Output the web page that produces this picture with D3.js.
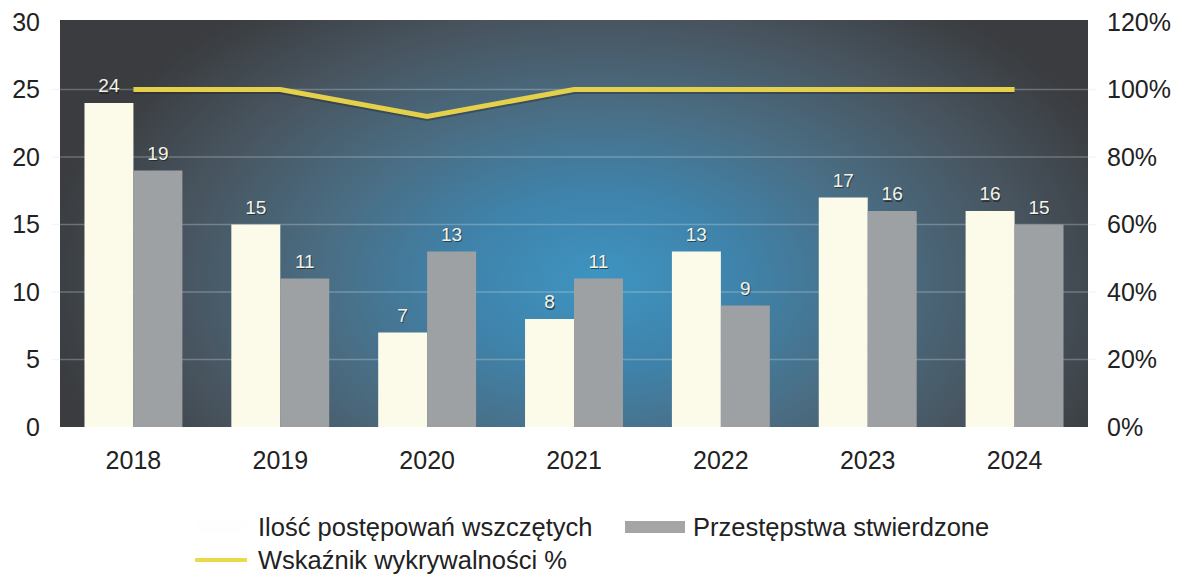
<!DOCTYPE html>
<html>
<head>
<meta charset="utf-8">
<script src="https://cdn.jsdelivr.net/npm/d3@7"></script>
<style>
  body { margin: 0; background: #fff; }
  svg { display: block; font-family: 'Liberation Sans', Arial, sans-serif; }
</style>
</head>
<body>
<div id="chart"></div>
<script>
const years = ['2018', '2019', '2020', '2021', '2022', '2023', '2024'];
const wszczete = [24, 15, 7, 8, 13, 17, 16];
const stwierdzone = [19, 11, 13, 11, 9, 16, 15];
const wskaznik = [100, 100, 92, 100, 100, 100, 100];
const leftTicks = [0, 5, 10, 15, 20, 25, 30];
const rightTicks = [0, 20, 40, 60, 80, 100, 120];
const seriesNames = ['Ilość postępowań wszczętych', 'Przestępstwa stwierdzone', 'Wskaźnik wykrywalności %'];

const width = 1185;
const height = 580;
const plot = { left: 60, right: 1088, top: 22, bottom: 427 };

const svg = d3.select('#chart').append('svg')
  .attr('width', width)
  .attr('height', height);

// radial background, stretched into an ellipse
const gcx = 600, gcy = 280;
const grad = svg.append('defs').append('radialGradient')
  .attr('id', 'bg')
  .attr('gradientUnits', 'userSpaceOnUse')
  .attr('cx', gcx).attr('cy', gcy).attr('r', 560)
  .attr('gradientTransform', `translate(${gcx},${gcy}) scale(1,0.62) translate(${-gcx},${-gcy})`);
grad.append('stop').attr('offset', '0%').attr('stop-color', '#3e94c1');
grad.append('stop').attr('offset', '25%').attr('stop-color', '#3f83ab');
grad.append('stop').attr('offset', '50%').attr('stop-color', '#4a6d83');
grad.append('stop').attr('offset', '75%').attr('stop-color', '#485560');
grad.append('stop').attr('offset', '100%').attr('stop-color', '#3a3c3f');

const x = d3.scaleBand()
  .domain(years)
  .range([plot.left, plot.right])
  .paddingInner(1 / 3)
  .paddingOuter(1 / 6);

const xSub = d3.scaleBand()
  .domain(['a', 'b'])
  .range([0, x.bandwidth()]);

const y = d3.scaleLinear()
  .domain([0, 30])
  .range([plot.bottom, plot.top]);

const yRight = d3.scaleLinear()
  .domain([0, 120])
  .range([plot.bottom, plot.top]);

svg.append('rect')
  .attr('x', plot.left)
  .attr('y', plot.top - 2)
  .attr('width', plot.right - plot.left)
  .attr('height', plot.bottom - plot.top + 2)
  .attr('fill', 'url(#bg)');

// gridlines
svg.append('g')
  .selectAll('line')
  .data(leftTicks.slice(1, -1))
  .join('line')
  .attr('x1', plot.left - 8)
  .attr('x2', plot.right + 8)
  .attr('y1', d => y(d))
  .attr('y2', d => y(d))
  .attr('stroke', 'rgba(215,225,232,0.3)')
  .attr('stroke-width', 1.5);

const styleTicks = g => g.selectAll('text')
  .attr('font-size', 25)
  .attr('fill', '#222')
  .attr('font-family', "'Liberation Sans', Arial, sans-serif");

// left axis
svg.append('g')
  .attr('transform', `translate(${plot.left},0)`)
  .call(d3.axisLeft(y).tickValues(leftTicks).tickSize(0).tickPadding(20))
  .call(g => g.select('.domain').remove())
  .call(styleTicks);

// right axis
svg.append('g')
  .attr('transform', `translate(${plot.right},0)`)
  .call(d3.axisRight(yRight).tickValues(rightTicks).tickSize(0).tickFormat(d => d + '%').tickPadding(19))
  .call(g => g.select('.domain').remove())
  .call(styleTicks);

// bottom axis
svg.append('g')
  .attr('transform', `translate(0,${plot.bottom})`)
  .call(d3.axisBottom(x).tickSize(0).tickPadding(24))
  .call(g => g.select('.domain').remove())
  .call(styleTicks);

// bars
const barData = years.map((yr, i) => ({ year: yr, a: wszczete[i], b: stwierdzone[i] }));
const barColors = { a: '#fcfbea', b: '#9ea1a3' };

const groups = svg.append('g')
  .selectAll('g')
  .data(barData)
  .join('g')
  .attr('transform', d => `translate(${x(d.year)},0)`);

groups.selectAll('rect')
  .data(d => ['a', 'b'].map(k => ({ key: k, value: d[k] })))
  .join('rect')
  .attr('x', d => xSub(d.key))
  .attr('y', d => y(d.value))
  .attr('width', xSub.bandwidth())
  .attr('height', d => y(0) - y(d.value))
  .attr('fill', d => barColors[d.key]);

// value labels
const labels = groups.selectAll('g.lbl')
  .data(d => ['a', 'b'].map(k => ({ key: k, value: d[k] })))
  .join('g')
  .attr('class', 'lbl')
  .attr('text-anchor', 'middle')
  .attr('font-size', 19);

labels.append('text')
  .attr('x', d => xSub(d.key) + xSub.bandwidth() / 2 + 1)
  .attr('y', d => y(d.value) - 11 + 1.5)
  .attr('fill', 'rgba(20,25,30,0.6)')
  .text(d => d.value);

labels.append('text')
  .attr('x', d => xSub(d.key) + xSub.bandwidth() / 2)
  .attr('y', d => y(d.value) - 11)
  .attr('fill', '#f3f3e6')
  .text(d => d.value);

// line
const lineData = years.map((yr, i) => ({ year: yr, value: wskaznik[i] }));
const line = d3.line()
  .x(d => x(d.year) + x.bandwidth() / 2)
  .y(d => yRight(d.value));

svg.append('path')
  .datum(lineData)
  .attr('d', line)
  .attr('transform', 'translate(0,2)')
  .attr('fill', 'none')
  .attr('stroke', 'rgba(30,30,30,0.35)')
  .attr('stroke-width', 5);

svg.append('path')
  .datum(lineData)
  .attr('d', line)
  .attr('fill', 'none')
  .attr('stroke', '#e4d04a')
  .attr('stroke-width', 5);

// legend
const legend = svg.append('g')
  .attr('font-size', 25.5)
  .attr('fill', '#222');

legend.append('rect')
  .attr('x', 195).attr('y', 521)
  .attr('width', 52).attr('height', 12)
  .attr('fill', '#fefefd');
legend.append('text')
  .attr('x', 258).attr('y', 536)
  .text(seriesNames[0]);

legend.append('rect')
  .attr('x', 625).attr('y', 521)
  .attr('width', 60).attr('height', 12)
  .attr('fill', '#a3a5a6');
legend.append('text')
  .attr('x', 693).attr('y', 536)
  .text(seriesNames[1]);

legend.append('line')
  .attr('x1', 195).attr('x2', 247)
  .attr('y1', 560).attr('y2', 560)
  .attr('stroke', '#ecd94c')
  .attr('stroke-width', 4);
legend.append('text')
  .attr('x', 258).attr('y', 569)
  .text(seriesNames[2]);
</script>
</body>
</html>
